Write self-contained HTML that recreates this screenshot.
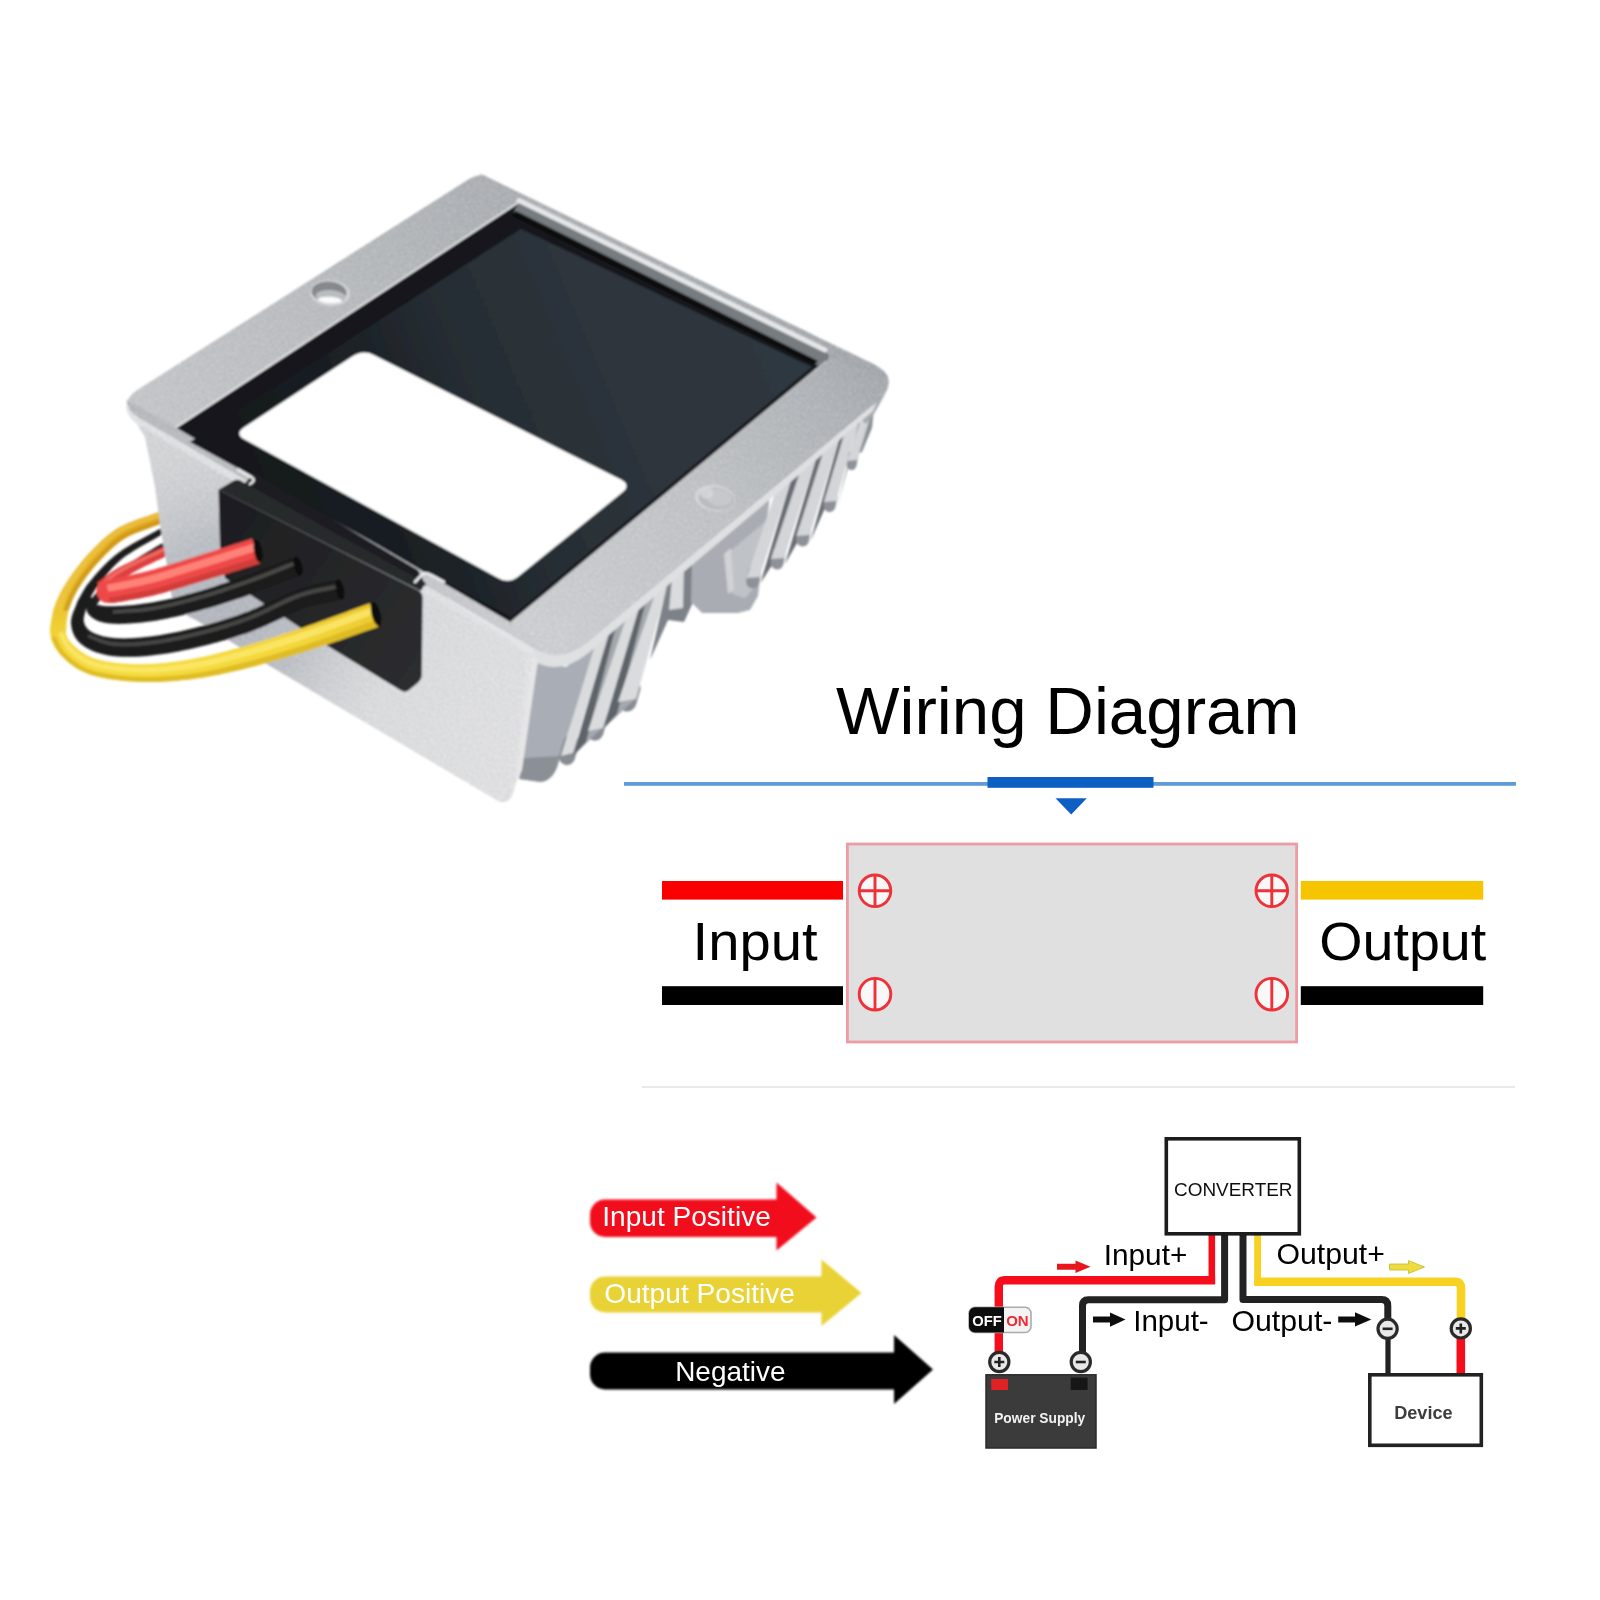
<!DOCTYPE html>
<html><head><meta charset="utf-8"><title>Wiring Diagram</title>
<style>
html,body{margin:0;padding:0;background:#fff;}
body{width:1600px;height:1600px;overflow:hidden;font-family:"Liberation Sans",sans-serif;}
svg{display:block;position:absolute;left:0;top:0;}
text{font-family:"Liberation Sans",sans-serif;}
</style></head><body>
<svg id="main" width="1600" height="1600" viewBox="0 0 1600 1600">
<defs>
<filter id="soft" x="-5%" y="-5%" width="110%" height="110%"><feGaussianBlur stdDeviation="0.6"/></filter>
<filter id="soft2" x="-5%" y="-5%" width="110%" height="110%"><feGaussianBlur stdDeviation="1"/></filter>
</defs>
<rect width="1600" height="1600" fill="#ffffff"/>

<!-- ===== Product photo ===== -->
<defs>
<filter id="grain" x="0" y="0" width="100%" height="100%" filterUnits="objectBoundingBox"><feTurbulence type="fractalNoise" baseFrequency="0.55" numOctaves="2" seed="7" result="n"/><feColorMatrix in="n" type="matrix" values="0 0 0 0 1  0 0 0 0 1  0 0 0 0 1  1.6 0 0 0 -0.62"/></filter>
<filter id="grainD" x="0" y="0" width="100%" height="100%" filterUnits="objectBoundingBox"><feTurbulence type="fractalNoise" baseFrequency="0.55" numOctaves="2" seed="23" result="n"/><feColorMatrix in="n" type="matrix" values="0 0 0 0 0.25  0 0 0 0 0.27  0 0 0 0 0.3  1.6 0 0 0 -0.62"/></filter>
<clipPath id="metalClip"><path d="M138 389.8L467 180.5Q479 173 491 179L868 361.5Q904 379 877 401.5L588 641.8Q561 664.3 534 648.5L140 417.9Q116 403.8 138 389.8Z"/><path d="M127 408L137 424L145 437L155 487L162 537L167 565L172 598Q177 612 196 620L270 666L498 801Q510 806 514 790L533 656L300 500Z"/></clipPath>
<linearGradient id="gYel" gradientUnits="userSpaceOnUse" x1="0" y1="525" x2="0" y2="670"><stop offset="0" stop-color="#e2ac22"/><stop offset="0.5" stop-color="#eac02c"/><stop offset="0.8" stop-color="#f3d63a"/><stop offset="1" stop-color="#f5da3e"/></linearGradient>
<linearGradient id="gGrom" gradientUnits="userSpaceOnUse" x1="220" y1="520" x2="420" y2="660"><stop offset="0" stop-color="#1d1e20"/><stop offset="1" stop-color="#2c2d2f"/></linearGradient>
<linearGradient id="gTL" gradientUnits="userSpaceOnUse" x1="130" y1="400" x2="480" y2="180"><stop offset="0" stop-color="#c3c5c7"/><stop offset="0.5" stop-color="#b7babd"/><stop offset="1" stop-color="#a7abaf"/></linearGradient>
<linearGradient id="gTR" gradientUnits="userSpaceOnUse" x1="480" y1="180" x2="885" y2="375">
<stop offset="0" stop-color="#a6aaae"/><stop offset="1" stop-color="#9da2a7"/></linearGradient>
<linearGradient id="gFR" gradientUnits="userSpaceOnUse" x1="550" y1="650" x2="880" y2="380">
<stop offset="0" stop-color="#cdcfd1"/><stop offset="0.5" stop-color="#bec1c4"/><stop offset="0.85" stop-color="#acb0b4"/><stop offset="1" stop-color="#a0a5aa"/></linearGradient>
<linearGradient id="gFL" gradientUnits="userSpaceOnUse" x1="130" y1="410" x2="550" y2="650"><stop offset="0" stop-color="#b3b6b9"/><stop offset="0.5" stop-color="#bcbfc2"/><stop offset="1" stop-color="#cdcfd1"/></linearGradient>
<linearGradient id="gFrame" gradientUnits="userSpaceOnUse" x1="130" y1="420" x2="880" y2="360">
<stop offset="0" stop-color="#c6c8ca"/><stop offset="0.45" stop-color="#b4b7ba"/><stop offset="1" stop-color="#9ea3a8"/>
</linearGradient>
<linearGradient id="gFrameFront" gradientUnits="userSpaceOnUse" x1="520" y1="660" x2="880" y2="380">
<stop offset="0" stop-color="#c9cbcd"/><stop offset="0.6" stop-color="#b9bcbf"/><stop offset="1" stop-color="#a3a7ab"/>
</linearGradient>
<linearGradient id="gWall" gradientUnits="userSpaceOnUse" x1="140" y1="450" x2="520" y2="740"><stop offset="0" stop-color="#d4d5d6"/><stop offset="0.5" stop-color="#d9dadb"/><stop offset="1" stop-color="#e3e3e4"/></linearGradient>
<radialGradient id="gWallSh" gradientUnits="userSpaceOnUse" cx="225" cy="615" r="175"><stop offset="0" stop-color="#aeb2ba" stop-opacity="1"/><stop offset="0.45" stop-color="#b4b8bf" stop-opacity="0.85"/><stop offset="1" stop-color="#c8cacf" stop-opacity="0"/></radialGradient>
<linearGradient id="gPot" gradientUnits="userSpaceOnUse" x1="240" y1="540" x2="760" y2="320"><stop offset="0" stop-color="#13171a"/><stop offset="0.28" stop-color="#1a2024"/><stop offset="0.5" stop-color="#272e34"/><stop offset="0.75" stop-color="#2e353d"/><stop offset="1" stop-color="#2f373f"/></linearGradient>
<filter id="pblur" x="-2%" y="-2%" width="104%" height="104%"><feGaussianBlur stdDeviation="0.9"/></filter>
</defs>
<g id="photo" filter="url(#pblur)">
<!--WB_START-->
<path d="M86.3 606.0L87.2 604.3L88.1 602.7L88.9 601.1L89.6 599.5L90.4 598.0L91.1 596.5L91.9 595.0L92.7 593.5L93.6 592.0L94.6 590.4L95.8 588.6L97.1 586.8L98.7 584.7L100.4 582.5L102.1 580.2L103.9 577.9L105.9 575.5L107.9 573.0L110.0 570.6L112.2 568.1L114.5 565.7L117.0 563.3L119.5 561.0L122.1 558.8L124.9 556.6L128.0 554.5L131.2 552.4L134.5 550.3L138.0 548.2L141.6 546.1L145.3 544.1L148.9 542.0L152.6 539.9L156.3 537.8L160.0 535.7L163.5 533.6L160.5 528.4L156.9 530.4L153.3 532.4L149.6 534.5L145.9 536.5L142.2 538.5L138.4 540.5L134.8 542.5L131.2 544.6L127.6 546.7L124.2 548.8L121.0 551.0L117.9 553.2L114.9 555.5L112.1 557.9L109.4 560.3L106.8 562.8L104.3 565.2L101.9 567.7L99.7 570.1L97.5 572.5L95.5 574.8L93.6 577.1L91.8 579.2L90.1 581.2L88.5 583.2L87.0 585.1L85.7 587.0L84.6 588.7L83.6 590.4L82.7 592.0L81.8 593.6L81.0 595.1L80.2 596.6L79.4 598.0L78.6 599.5L77.7 601.0Z" fill="#1c1c1c" />
<path d="M96.1 605.6L96.9 604.4L97.8 603.4L98.5 602.3L99.2 601.3L99.9 600.4L100.6 599.4L101.4 598.4L102.2 597.4L103.1 596.3L104.0 595.1L105.2 593.9L106.5 592.5L108.0 590.9L109.5 589.3L111.2 587.5L112.9 585.7L114.8 583.9L116.7 582.0L118.7 580.0L120.7 578.1L122.9 576.1L125.1 574.2L127.4 572.3L129.8 570.4L132.3 568.5L134.9 566.6L137.7 564.7L140.6 562.8L143.6 560.9L146.7 558.9L149.8 556.9L152.9 555.0L156.1 553.0L159.2 551.0L162.3 549.1L165.3 547.1L162.7 542.9L159.6 544.8L156.5 546.6L153.3 548.5L150.2 550.4L147.0 552.3L143.8 554.2L140.7 556.1L137.6 558.0L134.6 559.9L131.7 561.8L128.9 563.7L126.2 565.6L123.7 567.5L121.2 569.5L118.8 571.4L116.5 573.4L114.3 575.3L112.2 577.3L110.2 579.2L108.2 581.0L106.4 582.8L104.7 584.5L103.1 586.0L101.5 587.5L100.1 588.9L98.8 590.3L97.6 591.5L96.6 592.6L95.6 593.7L94.7 594.7L93.9 595.7L93.1 596.7L92.4 597.6L91.6 598.5L90.8 599.4L89.9 600.4Z" fill="#232323" />
<path d="M105.0 593.1L106.4 592.0L107.8 590.8L109.2 589.7L110.5 588.5L111.9 587.4L113.2 586.3L114.5 585.2L115.9 584.1L117.2 583.0L118.5 582.0L119.9 581.0L121.3 580.0L122.7 579.1L124.1 578.1L125.6 577.2L127.0 576.3L128.5 575.3L130.0 574.4L131.5 573.5L133.2 572.6L134.8 571.7L136.6 570.7L138.4 569.7L140.3 568.7L142.3 567.7L144.4 566.6L146.6 565.6L148.9 564.5L151.2 563.4L153.6 562.3L156.0 561.1L158.5 560.0L160.9 558.9L163.3 557.8L165.7 556.6L168.1 555.5L163.9 546.5L161.5 547.5L159.1 548.6L156.7 549.7L154.3 550.8L151.8 551.9L149.4 553.0L147.0 554.1L144.6 555.2L142.2 556.2L140.0 557.3L137.8 558.3L135.7 559.3L133.7 560.2L131.8 561.2L129.9 562.0L128.1 562.9L126.4 563.7L124.6 564.6L123.0 565.4L121.3 566.3L119.6 567.1L118.0 568.0L116.4 569.0L114.7 570.0L113.1 571.0L111.5 572.1L109.9 573.2L108.4 574.3L106.9 575.4L105.4 576.5L104.0 577.6L102.6 578.7L101.2 579.7L99.8 580.8L98.4 581.8L97.0 582.9Z" fill="#dd3f3f" />
<path d="M100.6 587.5L102.0 586.4L103.4 585.3L104.8 584.2L106.2 583.1L107.5 582.0L108.9 580.9L110.3 579.8L111.7 578.7L113.2 577.6L114.6 576.6L116.1 575.5L117.7 574.5L119.2 573.5L120.8 572.6L122.3 571.7L123.9 570.8L125.4 569.9L127.0 569.0L128.7 568.1L130.4 567.3L132.1 566.4L133.9 565.4L135.8 564.5L137.8 563.5L139.8 562.5L142.0 561.5L144.2 560.4L146.5 559.3L148.9 558.3L151.3 557.2L153.7 556.1L156.2 554.9L158.6 553.8L161.0 552.7L163.4 551.6L165.8 550.5L164.5 547.8L162.2 548.9L159.8 550.0L157.3 551.1L154.9 552.2L152.5 553.3L150.0 554.4L147.6 555.5L145.2 556.6L142.9 557.6L140.6 558.7L138.5 559.7L136.4 560.7L134.4 561.7L132.5 562.6L130.6 563.5L128.9 564.3L127.1 565.2L125.4 566.0L123.8 566.9L122.2 567.8L120.5 568.6L118.9 569.6L117.3 570.5L115.7 571.5L114.1 572.5L112.5 573.6L111.0 574.7L109.5 575.7L108.0 576.8L106.6 577.9L105.2 579.0L103.8 580.1L102.4 581.2L101.0 582.3L99.6 583.3L98.2 584.4Z" fill="#f06a62" />
<path d="M162.9 510.4L162.4 510.6L162.0 510.7L161.8 510.8L161.5 510.9L161.2 511.0L160.8 511.1L160.3 511.3L159.6 511.5L158.8 511.9L157.8 512.3L156.4 512.8L154.8 513.4L152.9 514.1L150.5 515.0L147.8 515.9L144.8 516.9L141.5 518.0L138.1 519.2L134.6 520.5L131.1 521.9L127.6 523.3L124.1 524.9L120.8 526.5L117.8 528.3L114.9 530.1L112.1 532.0L109.5 534.0L106.9 536.0L104.4 538.2L102.0 540.3L99.7 542.5L97.4 544.7L95.2 547.0L93.0 549.2L90.9 551.4L88.8 553.6L86.7 555.8L84.7 558.2L82.6 560.5L80.6 563.0L78.7 565.4L76.8 567.8L75.0 570.2L73.2 572.7L71.5 575.1L69.8 577.4L68.3 579.7L66.8 582.0L65.4 584.2L64.0 586.4L62.8 588.6L61.5 590.8L60.4 592.9L59.3 595.0L58.3 597.2L57.3 599.3L56.4 601.4L55.6 603.6L54.8 605.7L54.0 608.0L53.4 610.3L52.8 612.6L52.4 614.9L52.0 617.1L51.7 619.3L51.5 621.4L51.3 623.5L51.1 625.5L50.9 627.5L50.8 629.4L50.6 631.2L50.3 633.1L65.7 634.9L65.9 632.8L66.0 630.6L66.2 628.5L66.3 626.5L66.3 624.6L66.4 622.6L66.6 620.8L66.7 619.0L66.9 617.2L67.2 615.5L67.5 613.8L68.0 612.0L68.5 610.2L69.1 608.4L69.7 606.6L70.4 604.7L71.1 602.9L71.9 601.0L72.8 599.1L73.7 597.2L74.7 595.3L75.8 593.3L77.0 591.3L78.2 589.2L79.5 587.1L80.9 584.9L82.4 582.6L84.0 580.4L85.6 578.1L87.3 575.8L89.1 573.5L90.9 571.2L92.7 569.0L94.6 566.7L96.4 564.6L98.4 562.4L100.4 560.3L102.4 558.1L104.4 555.9L106.5 553.8L108.6 551.7L110.7 549.7L112.9 547.7L115.1 545.7L117.3 543.9L119.6 542.1L121.9 540.5L124.2 538.9L126.7 537.5L129.5 536.1L132.5 534.6L135.7 533.3L139.0 532.0L142.3 530.7L145.6 529.5L148.7 528.4L151.7 527.3L154.5 526.3L157.0 525.4L159.2 524.6L160.9 523.9L162.1 523.4L163.1 523.0L163.8 522.7L164.4 522.6L164.7 522.4L165.0 522.3L165.2 522.3L165.5 522.2L166.0 522.0L166.5 521.9L167.1 521.6Z" fill="url(#gYel)" />
<path d="M165.5 517.4L164.9 517.6L164.5 517.8L164.1 517.9L163.8 518.0L163.6 518.1L163.2 518.2L162.8 518.3L162.3 518.5L161.5 518.8L160.5 519.2L159.2 519.7L157.5 520.4L155.5 521.2L153.0 522.1L150.3 523.0L147.3 524.1L144.1 525.2L140.7 526.4L137.4 527.7L134.0 529.0L130.7 530.4L127.5 531.9L124.5 533.4L121.8 534.9L119.3 536.6L116.8 538.3L114.4 540.2L112.0 542.1L109.7 544.1L107.5 546.2L105.2 548.3L103.1 550.4L101.0 552.6L98.9 554.7L96.8 556.9L94.8 559.1L92.8 561.3L90.8 563.5L88.9 565.8L87.0 568.1L85.2 570.5L83.4 572.8L81.6 575.1L79.9 577.5L78.3 579.8L76.8 582.1L75.3 584.3L73.9 586.5L72.7 588.6L71.5 590.7L70.5 592.7L69.5 594.7L68.6 596.7L67.8 598.7L66.9 600.7L66.1 602.7L65.3 604.7L64.5 606.7L63.6 608.7L62.6 610.8L67.3 612.9L68.2 610.8L69.1 608.7L69.9 606.6L70.7 604.6L71.5 602.6L72.2 600.6L73.0 598.7L73.9 596.8L74.8 594.9L75.7 592.9L76.8 591.0L77.9 589.0L79.3 586.9L80.7 584.7L82.2 582.5L83.7 580.2L85.4 577.9L87.1 575.6L88.8 573.3L90.6 571.0L92.4 568.7L94.3 566.5L96.2 564.3L98.1 562.2L100.1 560.0L102.1 557.9L104.2 555.7L106.3 553.6L108.4 551.5L110.5 549.4L112.7 547.4L114.9 545.5L117.1 543.7L119.4 541.9L121.7 540.2L124.1 538.7L126.6 537.2L129.4 535.8L132.4 534.4L135.6 533.0L138.9 531.7L142.2 530.4L145.5 529.2L148.6 528.1L151.6 527.0L154.4 526.0L156.9 525.1L159.1 524.3L160.7 523.6L162.0 523.1L163.0 522.7L163.7 522.5L164.3 522.3L164.6 522.1L164.9 522.1L165.1 522.0L165.4 521.9L165.9 521.7L166.4 521.6L167.0 521.3Z" fill="#c8901a" opacity="0.7"/>
<path d="M163.3 511.5L162.8 511.7L162.4 511.8L162.2 511.9L161.9 512.0L161.6 512.1L161.2 512.3L160.7 512.4L160.1 512.7L159.2 513.0L158.2 513.4L156.9 513.9L155.3 514.5L153.3 515.3L150.9 516.1L148.2 517.0L145.2 518.1L141.9 519.2L138.5 520.4L135.0 521.7L131.5 523.0L128.1 524.5L124.7 526.0L121.4 527.6L118.4 529.3L115.6 531.1L112.9 533.0L110.3 535.0L107.7 537.0L105.3 539.1L102.9 541.3L100.6 543.4L98.3 545.6L96.1 547.9L94.0 550.1L91.9 552.3L89.8 554.5L87.7 556.7L85.6 559.0L83.6 561.4L81.7 563.8L79.7 566.2L77.8 568.6L76.0 571.0L74.3 573.4L72.6 575.8L70.9 578.2L69.4 580.5L67.9 582.8L66.5 585.0L65.2 587.3L64.0 589.5L63.0 591.6L62.0 593.7L61.0 595.8L60.1 597.8L59.3 599.8L58.4 601.8L57.5 603.7L56.7 605.6L55.7 607.6L59.7 609.4L60.6 607.4L61.5 605.4L62.3 603.4L63.2 601.4L64.0 599.5L64.9 597.4L65.8 595.4L66.7 593.4L67.7 591.3L68.8 589.2L70.0 587.1L71.4 584.9L72.8 582.7L74.3 580.4L75.9 578.1L77.5 575.7L79.2 573.4L81.0 571.0L82.8 568.6L84.7 566.3L86.7 563.9L88.6 561.6L90.6 559.3L92.6 557.1L94.7 554.9L96.8 552.7L98.9 550.5L101.0 548.4L103.2 546.2L105.5 544.1L107.8 542.0L110.2 539.9L112.6 537.9L115.1 536.0L117.7 534.2L120.4 532.5L123.2 530.9L126.3 529.3L129.6 527.9L132.9 526.4L136.4 525.1L139.8 523.8L143.1 522.6L146.4 521.5L149.4 520.5L152.1 519.5L154.5 518.7L156.6 517.9L158.2 517.2L159.5 516.7L160.5 516.3L161.3 516.0L161.9 515.8L162.4 515.6L162.7 515.5L163.0 515.4L163.3 515.3L163.6 515.2L164.0 515.1L164.6 514.9Z" fill="#f0c648" opacity="0.7"/>
<!--WB_END-->
<!-- vertical wall (left / front-left face) -->
<path d="M127 408L137 424L145 437L155 487L162 537L167 565L172 598Q177 612 196 620L270 666L498 801Q510 806 514 790L533 656L300 500Z" fill="url(#gWall)"/>
<path d="M127 408L137 424L145 437L155 487L162 537L167 565L172 598Q177 612 196 620L270 666L498 801Q510 806 514 790L533 656L300 500Z" fill="url(#gWallSh)"/>
<!--FINS_START-->
<path d="M535.0 660.0L566.0 667.1L600.0 638.4L561.0 754.0L550.0 778.0L541.0 782.0L520.0 779.0L528.0 700.0Z" fill="#a9aeb6"/>
<path d="M523 758L560 756Q556 780 541 782L519 779Z" fill="#8b8f96"/>
<path d="M571.0 743.0L567.0 757.0" stroke="#878b92" stroke-width="16" stroke-linecap="round" fill="none"/>
<path d="M599.0 718.0L595.0 732.0" stroke="#878b92" stroke-width="17" stroke-linecap="round" fill="none"/>
<path d="M631.0 688.0L627.0 702.0" stroke="#878b92" stroke-width="19" stroke-linecap="round" fill="none"/>
<path d="M609.0 631.9L628.0 615.8L602.0 728.0L573.0 756.0Z" fill="#a3a8ae"/>
<path d="M609.0 631.9L616.0 626.0L586.0 742.0L573.0 756.0Z" fill="#5f646b"/>
<path d="M639.0 606.6L657.0 591.4L634.0 700.0L603.0 729.0Z" fill="#a3a8ae"/>
<path d="M639.0 606.6L646.0 600.7L617.0 714.0L603.0 729.0Z" fill="#5f646b"/>
<path d="M596.0 641.8L610.0 630.0L573.0 753.0L561.0 756.0Z" fill="#d9dbdd"/>
<path d="M627.0 615.7L640.0 604.7L603.0 728.0L588.0 731.0Z" fill="#d9dbdd"/>
<path d="M656.0 591.2L669.0 580.3L636.0 699.0L618.0 702.0Z" fill="#d9dbdd"/>
<path d="M668.0 581.1L696.0 557.5L694.0 600.0L684.0 622.0L668.0 620.0L650.0 660.0Z" fill="#7d8289"/>
<path d="M672.0 577.8L684.0 567.7L683.0 608.0L669.0 610.0Z" fill="#d9dbdd"/>
<path d="M692.0 560.9L770.0 495.2L758.0 596.0L750.0 610.0L738.0 613.0L702.0 613.0L691.0 602.0Z" fill="#a9adb3"/>
<path d="M729.0 552.0L772.0 516.0L752.0 590.0L745.0 598.0L732.0 594.0Z" fill="#bfc2c6"/>
<path d="M724.0 554.0L731.0 548.0L734.0 590.0L728.0 594.0Z" fill="#d0d2d5"/>
<path d="M790.5 481.4L802.5 464.3L772.0 565.0L760.5 583.0Z" fill="#676c73"/>
<path d="M815.5 460.3L825.5 444.9L797.5 542.0L785.0 564.0Z" fill="#676c73"/>
<path d="M838.5 440.9L846.0 428.1L825.0 508.0L810.5 541.0Z" fill="#676c73"/>
<path d="M858.0 424.1L862.0 415.4L848.0 467.0L837.0 507.0Z" fill="#676c73"/>
<path d="M872.0 411.4L874.0 408.5L872.0 428.0L862.0 452.0L857.0 454.0Z" fill="#8a8f95"/>
<path d="M754.5 572.0L752.5 582.0" stroke="#8e9298" stroke-width="13" stroke-linecap="round" fill="none"/>
<path d="M777.5 485.4L790.5 481.4L759.5 577.0L746.5 578.0Z" fill="#d3d5d8"/>
<path d="M779.0 553.0L777.0 563.0" stroke="#8e9298" stroke-width="13" stroke-linecap="round" fill="none"/>
<path d="M802.5 464.3L815.5 460.3L784.0 558.0L771.0 559.0Z" fill="#d3d5d8"/>
<path d="M804.5 530.0L802.5 540.0" stroke="#8e9298" stroke-width="13" stroke-linecap="round" fill="none"/>
<path d="M825.5 444.9L838.5 440.9L809.5 535.0L796.5 536.0Z" fill="#d3d5d8"/>
<path d="M831.5 496.0L829.5 506.0" stroke="#8e9298" stroke-width="12" stroke-linecap="round" fill="none"/>
<path d="M846.0 428.1L858.0 424.1L836.0 501.0L824.0 502.0Z" fill="#d3d5d8"/>
<path d="M853.5 455.0L851.5 465.0" stroke="#8e9298" stroke-width="10" stroke-linecap="round" fill="none"/>
<path d="M862.0 415.4L872.0 411.4L857.0 460.0L847.0 461.0Z" fill="#d3d5d8"/>
<path d="M888.0 381.0L884.0 396.0L874.0 414.0L866.0 424.0L860.0 418.0L872.0 404.0Z" fill="#a6aaaf"/>
<path d="M520 641L534 648.5Q561 664.3 588 641.8L877 401.5L873 411L800 473.9L700 558.2L600 642.4Q563 680 532 660Z" fill="#dee0e2"/>
<path d="M527.0 652.0L538.0 660.0L522.0 770.0L513.0 790.0Z" fill="#e6e6e6"/>
<!--FINS_END-->
<!-- top frame -->
<path d="M138 389.8L467 180.5Q479 173 491 179L868 361.5Q904 379 877 401.5L588 641.8Q561 664.3 534 648.5L140 417.9Q116 403.8 138 389.8Z" fill="#b4b7ba"/>
<path d="M138 389.8L467 180.5Q479 173 485 176L518 202L176 427L140 417.9Q116 403.8 138 389.8Z" fill="url(#gTL)"/>
<path d="M479 174Q485 175 491 179L868 361.5Q892 372 888 384L826 356L518 202Z" fill="url(#gTR)"/>
<path d="M888 380Q890 392 877 401.5L588 641.8Q575 652 560 655L510 622L828 355Z" fill="url(#gFR)"/>
<path d="M562 655Q548 656 534 648.5L140 417.9Q125 409 127 400L176 427L511 622Z" fill="url(#gFL)"/>
<path d="M127 403Q126 411 140 418.500L534 649L531 656L140 426Q128 419 126 408Z" fill="#e3e4e5"/>
<g clip-path="url(#metalClip)"><rect x="110" y="160" width="800" height="660" filter="url(#grain)" opacity="0.55"/><rect x="110" y="160" width="800" height="660" filter="url(#grainD)" opacity="0.35"/></g>
<!-- potting -->
<path d="M175.8 427.5L518.2 202.5L824 352Q832 356 826 361L510.8 622.2Z" fill="#14171a"/>
<path d="M190 442L521 229L812 367L511 617Z" fill="url(#gPot)"/>
<!-- potting detail -->
<path d="M518.2 202.5L824 352Q832 356 826 361L819 366L514 212Z" fill="#767b80"/>
<path d="M516 211L818 361L814 365L512 216Z" fill="#0d0f11"/>

<path d="M175.8 427.5L518.2 202.5" stroke="#e9eaeb" stroke-width="1.8" fill="none"/>
<path d="M826 361L510.8 622.2" stroke="#c9cbcd" stroke-width="1.6" fill="none" opacity="0.8"/>
<path d="M519 200.500L825 350" stroke="#e4e6e8" stroke-width="5" fill="none" stroke-linecap="round"/>

<!-- label -->
<path d="M353.0 356.1Q363.0 349.5 373.7 354.9L620.8 479.6Q631.5 485.0 622.2 492.5L518.3 576.5Q509.0 584.0 498.5 578.2L244.7 439.6Q234.2 433.8 244.2 427.2Z" fill="#ffffff"/>
<!-- holes -->
<g transform="rotate(4 330 293)">
<ellipse cx="330" cy="293" rx="20" ry="13" fill="#d2d4d6"/>
<ellipse cx="329" cy="292" rx="17.5" ry="10.5" fill="#85898d"/>
<ellipse cx="331" cy="296.5" rx="15" ry="6.5" fill="#b9bcbf"/>
<ellipse cx="330.5" cy="300" rx="12" ry="3.2" fill="#fbfbfb"/>
</g>
<g transform="rotate(8 715 498)">
<ellipse cx="715" cy="498" rx="20.5" ry="13" fill="#d3d5d7"/>
<ellipse cx="716.5" cy="498.5" rx="18" ry="11" fill="#b9bcc0"/>
<ellipse cx="719" cy="497" rx="13" ry="8.5" fill="#c6c8cb"/>
<ellipse cx="706" cy="494" rx="7" ry="6" fill="#d6d8da" opacity="0.8"/>
</g>

<!-- notch / grommet -->
<path d="M254 473L418 570L426 586L243 485.500Z" fill="#1c1e20"/>
<path d="M218.500 489.800L233 481Q238 478 243 482L426 583L420.700 591Z" fill="#282a2c"/>
<path d="M218.500 489.800L418.500 590.500Q422.800 592.500 422.600 599L421.800 675Q421.500 680 417 683.500L408.500 690.500Q405 693 400 690L331 648L225 578L220 546Z" fill="url(#gGrom)"/>
<path d="M238 469.500L252 477.500Q256 480.500 250 484" stroke="#eceded" stroke-width="2.600" fill="none" stroke-linecap="round"/>
<path d="M415 582L422 574.500Q426 572 431 575L444 582" stroke="#eceded" stroke-width="2.600" fill="none" stroke-linecap="round"/>
<!--WF_START-->
<path d="M53.8 609.0L53.5 610.8L53.1 612.7L52.7 614.6L52.2 616.7L51.7 618.8L51.2 621.0L50.8 623.2L50.4 625.5L50.1 627.9L50.0 630.3L50.1 632.9L50.4 635.4L50.8 637.6L51.4 639.8L52.2 641.9L53.0 643.9L54.0 645.9L55.1 647.8L56.3 649.6L57.6 651.3L58.9 653.0L60.4 654.7L61.9 656.3L63.5 657.8L65.2 659.3L66.8 660.9L68.6 662.4L70.6 664.0L72.6 665.5L74.8 667.0L77.1 668.5L79.6 670.0L82.2 671.3L85.1 672.6L88.0 673.8L91.2 674.9L94.5 675.8L97.9 676.7L101.5 677.5L105.2 678.3L109.0 678.9L113.0 679.5L117.0 680.0L121.0 680.5L125.1 680.9L129.1 681.2L133.2 681.5L137.2 681.7L141.3 681.9L145.4 682.0L149.5 682.0L153.6 682.0L157.8 681.9L162.0 681.7L166.3 681.5L170.5 681.2L174.7 680.9L178.9 680.5L183.1 680.1L187.3 679.7L191.4 679.2L195.5 678.6L199.5 678.1L203.5 677.4L207.5 676.8L211.5 676.0L215.6 675.3L219.8 674.4L224.0 673.5L228.4 672.6L232.9 671.5L237.7 670.4L242.6 669.2L247.6 668.0L252.8 666.7L258.1 665.3L263.6 663.8L269.1 662.3L274.7 660.7L280.4 659.1L286.1 657.5L291.9 655.7L297.8 654.0L303.6 652.2L309.6 650.3L315.6 648.3L321.8 646.3L328.0 644.2L334.2 642.0L340.5 639.9L346.8 637.7L353.1 635.5L359.5 633.3L365.7 631.1L372.0 628.9L378.2 626.8L369.8 603.2L363.6 605.5L357.4 607.8L351.1 610.1L344.9 612.4L338.6 614.7L332.3 617.0L326.2 619.3L320.0 621.5L314.0 623.7L308.0 625.8L302.1 627.9L296.4 629.8L290.7 631.7L285.0 633.6L279.3 635.4L273.8 637.2L268.2 639.0L262.8 640.7L257.4 642.3L252.1 643.9L247.0 645.4L242.0 646.9L237.1 648.3L232.3 649.6L227.8 650.8L223.4 652.0L219.2 653.1L215.2 654.1L211.2 655.1L207.4 656.0L203.6 656.8L199.9 657.6L196.2 658.3L192.4 659.0L188.6 659.7L184.7 660.3L180.7 660.9L176.8 661.5L172.8 662.0L168.8 662.5L164.8 662.9L160.8 663.3L156.9 663.6L153.0 663.9L149.1 664.1L145.3 664.2L141.5 664.3L137.8 664.3L134.0 664.2L130.2 664.0L126.4 663.8L122.6 663.5L118.9 663.2L115.2 662.7L111.6 662.3L108.1 661.7L104.7 661.2L101.6 660.5L98.7 659.8L96.0 659.1L93.6 658.3L91.4 657.5L89.3 656.6L87.3 655.6L85.5 654.6L83.7 653.5L82.0 652.3L80.4 651.2L78.8 649.9L77.3 648.7L75.9 647.4L74.5 646.2L73.2 645.0L72.0 643.8L71.0 642.7L70.0 641.6L69.2 640.5L68.5 639.4L67.8 638.3L67.2 637.2L66.7 636.1L66.3 635.0L65.9 633.8L65.6 632.6L65.4 631.6L65.4 630.4L65.4 629.0L65.5 627.4L65.7 625.6L66.0 623.8L66.4 621.8L66.7 619.8L67.2 617.6L67.5 615.4L67.9 613.2L68.2 611.0Z" fill="url(#gYel)" />
<path d="M51.3 637.9L52.1 639.3L52.7 640.6L53.4 642.0L54.1 643.5L54.8 645.1L55.6 646.8L56.5 648.5L57.6 650.4L58.8 652.2L60.2 654.1L61.8 656.0L63.5 657.8L65.2 659.3L66.8 660.9L68.6 662.4L70.6 664.0L72.6 665.5L74.8 667.0L77.1 668.5L79.6 670.0L82.2 671.3L85.1 672.6L88.0 673.8L91.2 674.9L94.5 675.8L97.9 676.7L101.5 677.5L105.2 678.3L109.0 678.9L113.0 679.5L117.0 680.0L121.0 680.5L125.1 680.9L129.1 681.2L133.2 681.5L137.2 681.7L141.3 681.9L145.4 682.0L149.5 682.0L153.6 682.0L157.8 681.9L162.0 681.7L166.3 681.5L170.5 681.2L174.7 680.9L178.9 680.5L183.1 680.1L187.3 679.7L191.4 679.2L195.5 678.6L199.5 678.1L203.5 677.4L207.5 676.8L211.5 676.0L215.6 675.3L219.8 674.4L224.0 673.5L228.4 672.6L232.9 671.5L237.7 670.4L242.6 669.2L247.6 668.0L252.8 666.7L258.1 665.3L263.6 663.8L269.1 662.3L274.7 660.7L280.4 659.1L286.1 657.5L291.9 655.7L297.8 654.0L303.6 652.2L309.6 650.3L315.6 648.3L321.8 646.3L328.0 644.2L334.2 642.0L340.5 639.9L346.8 637.7L353.1 635.5L359.5 633.3L365.7 631.1L372.0 628.9L378.2 626.8L375.8 620.2L369.6 622.3L363.4 624.5L357.1 626.8L350.8 629.0L344.5 631.2L338.2 633.5L332.0 635.7L325.8 637.8L319.6 640.0L313.5 642.0L307.5 644.0L301.6 645.9L295.8 647.8L290.0 649.5L284.2 651.3L278.5 653.0L272.9 654.7L267.3 656.3L261.8 657.8L256.5 659.3L251.2 660.7L246.0 662.1L241.0 663.4L236.2 664.6L231.5 665.7L227.0 666.8L222.7 667.8L218.5 668.7L214.4 669.6L210.4 670.4L206.4 671.2L202.5 671.9L198.6 672.5L194.6 673.2L190.6 673.7L186.6 674.3L182.4 674.7L178.3 675.2L174.2 675.6L170.0 676.0L165.8 676.3L161.7 676.5L157.6 676.8L153.5 676.9L149.4 677.0L145.3 677.0L141.3 677.0L137.4 676.8L133.4 676.7L129.5 676.4L125.5 676.1L121.5 675.7L117.5 675.3L113.6 674.8L109.7 674.3L106.0 673.6L102.4 672.9L98.9 672.2L95.6 671.4L92.5 670.5L89.6 669.5L86.8 668.4L84.2 667.2L81.8 665.9L79.5 664.6L77.3 663.2L75.2 661.8L73.3 660.4L71.5 658.9L69.8 657.5L68.2 656.0L66.6 654.5L65.0 653.0L63.6 651.4L62.4 649.7L61.4 648.0L60.4 646.4L59.6 644.8L58.8 643.2L58.0 641.6L57.3 640.1L56.6 638.6L55.9 637.2L55.0 635.7Z" fill="#d9b520" opacity="0.8"/>
<path d="M58.3 633.8L59.2 635.3L60.0 636.9L60.8 638.4L61.5 639.9L62.2 641.5L63.0 643.0L63.8 644.5L64.7 646.0L65.6 647.5L66.7 648.9L67.9 650.3L69.3 651.7L70.8 653.1L72.4 654.5L74.0 655.9L75.7 657.2L77.5 658.6L79.5 659.9L81.5 661.2L83.7 662.4L86.0 663.6L88.4 664.7L91.0 665.7L93.7 666.6L96.7 667.4L99.8 668.2L103.2 668.9L106.7 669.6L110.4 670.2L114.1 670.7L118.0 671.2L121.9 671.6L125.8 671.9L129.7 672.2L133.6 672.4L137.5 672.6L141.4 672.6L145.3 672.7L149.3 672.6L153.3 672.5L157.3 672.3L161.4 672.0L165.5 671.7L169.6 671.4L173.7 671.0L177.8 670.5L181.9 670.0L185.9 669.5L189.9 669.0L193.9 668.4L197.8 667.7L201.6 667.0L205.5 666.3L209.4 665.5L213.3 664.7L217.3 663.8L221.5 662.8L225.8 661.8L230.2 660.7L234.9 659.5L239.7 658.2L244.7 656.9L249.8 655.5L255.0 654.1L260.3 652.5L265.8 651.0L271.3 649.3L276.9 647.6L282.6 645.9L288.3 644.1L294.0 642.3L299.8 640.4L305.7 638.5L311.6 636.5L317.7 634.4L323.8 632.3L330.0 630.1L336.2 627.9L342.5 625.6L348.8 623.3L355.1 621.1L361.4 618.8L367.6 616.6L373.8 614.4L371.3 607.3L365.1 609.6L358.9 611.8L352.6 614.1L346.3 616.4L340.0 618.7L333.8 621.0L327.6 623.3L321.4 625.5L315.3 627.6L309.3 629.8L303.4 631.8L297.6 633.7L291.9 635.6L286.2 637.5L280.5 639.3L274.9 641.1L269.4 642.8L263.9 644.5L258.5 646.1L253.2 647.7L248.0 649.1L243.0 650.6L238.0 651.9L233.3 653.2L228.7 654.4L224.3 655.6L220.0 656.7L216.0 657.7L212.0 658.6L208.1 659.5L204.3 660.3L200.5 661.1L196.7 661.8L192.9 662.5L189.1 663.1L185.2 663.7L181.2 664.3L177.1 664.8L173.1 665.3L169.1 665.8L165.0 666.2L161.0 666.5L157.0 666.8L153.1 667.1L149.2 667.2L145.3 667.3L141.5 667.4L137.7 667.3L133.9 667.2L130.0 667.0L126.2 666.8L122.3 666.5L118.5 666.1L114.8 665.7L111.1 665.2L107.6 664.6L104.2 664.0L101.0 663.4L97.9 662.6L95.2 661.9L92.6 661.1L90.3 660.1L88.1 659.2L86.0 658.1L84.0 657.0L82.1 655.8L80.4 654.6L78.7 653.4L77.1 652.1L75.5 650.8L74.0 649.5L72.6 648.2L71.4 647.1L70.4 645.9L69.5 644.8L68.7 643.5L67.9 642.2L67.2 640.9L66.5 639.4L65.8 637.9L65.0 636.4L64.2 634.7L63.3 633.1L62.4 631.5Z" fill="#fbe96e" opacity="0.8"/>
<path d="M335.7 579.8L332.6 580.5L329.7 581.1L326.8 581.7L323.8 582.3L320.8 582.9L317.6 583.5L314.4 584.2L311.1 585.0L307.7 585.9L304.1 586.9L300.4 588.0L296.5 589.4L292.5 590.9L288.4 592.6L284.3 594.5L280.1 596.4L275.9 598.5L271.7 600.5L267.5 602.6L263.4 604.6L259.3 606.5L255.2 608.4L251.3 610.1L247.4 611.7L243.5 613.1L239.6 614.6L235.6 616.0L231.7 617.3L227.8 618.6L223.9 619.8L219.9 621.0L216.0 622.2L212.0 623.3L208.1 624.4L204.1 625.5L200.1 626.5L196.1 627.6L192.0 628.6L188.0 629.5L183.9 630.5L179.8 631.4L175.7 632.3L171.7 633.1L167.7 633.8L163.8 634.5L159.9 635.2L156.2 635.8L152.5 636.3L148.9 636.7L145.4 637.1L141.8 637.5L138.4 637.8L134.9 638.0L131.6 638.2L128.3 638.3L125.2 638.4L122.2 638.4L119.3 638.3L116.5 638.2L114.0 638.1L111.5 637.8L109.2 637.5L106.9 637.1L104.8 636.7L102.7 636.2L100.8 635.7L98.9 635.1L97.2 634.5L95.6 633.9L94.1 633.2L92.7 632.5L91.5 631.9L90.5 631.3L89.6 630.6L88.7 630.0L88.0 629.3L87.3 628.6L86.6 627.8L86.1 627.0L85.5 626.1L85.0 625.2L84.6 624.2L84.2 623.1L84.0 622.2L83.8 621.4L83.7 620.5L83.7 619.4L83.8 618.1L84.0 616.7L84.4 615.2L84.8 613.6L85.2 611.9L85.7 610.2L86.1 608.4L86.5 606.5L86.8 604.7L77.2 602.3L76.6 603.8L76.1 605.2L75.4 606.8L74.8 608.4L74.1 610.1L73.4 611.8L72.7 613.6L72.1 615.5L71.6 617.4L71.2 619.5L71.0 621.6L71.0 623.8L71.3 625.8L71.5 627.6L72.0 629.5L72.5 631.4L73.2 633.2L74.0 635.1L75.0 636.9L76.2 638.7L77.5 640.4L79.0 642.1L80.7 643.7L82.5 645.1L84.4 646.4L86.3 647.7L88.4 648.8L90.6 649.9L92.9 651.0L95.3 651.9L97.8 652.8L100.5 653.6L103.2 654.3L106.1 655.0L109.0 655.5L112.0 655.9L115.2 656.3L118.4 656.6L121.7 656.7L125.2 656.8L128.7 656.8L132.3 656.8L135.9 656.7L139.6 656.5L143.4 656.2L147.2 655.9L151.0 655.5L154.9 655.1L158.8 654.6L162.8 654.1L166.9 653.4L171.1 652.7L175.3 652.0L179.5 651.2L183.8 650.3L188.0 649.4L192.3 648.4L196.5 647.5L200.7 646.5L204.9 645.5L209.0 644.4L213.1 643.3L217.3 642.2L221.4 641.1L225.5 639.9L229.6 638.7L233.8 637.4L237.9 636.1L242.0 634.8L246.2 633.4L250.4 631.9L254.6 630.3L258.9 628.6L263.3 626.8L267.7 624.8L272.0 622.8L276.3 620.8L280.6 618.7L284.7 616.7L288.8 614.8L292.7 613.0L296.5 611.4L300.1 609.9L303.5 608.6L306.7 607.6L309.8 606.6L312.9 605.8L315.9 605.1L318.8 604.4L321.7 603.9L324.7 603.3L327.7 602.8L330.7 602.2L333.9 601.6L337.1 600.9L340.3 600.2Z" fill="#1d1d1d" />
<path d="M336.7 584.4L333.6 585.1L330.7 585.7L327.7 586.3L324.7 586.9L321.6 587.5L318.6 588.1L315.4 588.8L312.2 589.5L308.8 590.4L305.4 591.3L301.8 592.4L298.1 593.7L294.2 595.2L290.2 596.8L286.2 598.6L282.1 600.6L277.9 602.6L273.7 604.6L269.5 606.7L265.3 608.7L261.2 610.7L257.0 612.5L253.0 614.3L249.0 615.9L245.1 617.4L241.1 618.8L237.1 620.2L233.1 621.5L229.1 622.8L225.2 624.1L221.2 625.3L217.2 626.5L213.2 627.6L209.2 628.7L205.2 629.8L201.2 630.8L197.1 631.8L193.1 632.8L188.9 633.8L184.8 634.7L180.7 635.6L176.6 636.5L172.5 637.3L168.4 638.1L164.5 638.8L160.6 639.4L156.8 640.0L153.1 640.5L149.4 641.0L145.8 641.3L142.2 641.7L138.6 642.0L135.2 642.2L131.7 642.4L128.4 642.5L125.2 642.5L122.1 642.5L119.1 642.4L116.2 642.3L113.6 642.1L111.1 641.8L108.9 641.4L106.7 640.9L104.7 640.3L102.8 639.7L100.8 639.0L98.9 638.3L96.9 637.5L94.9 636.7L92.8 635.9L90.7 635.1L88.4 634.3L87.4 637.4L89.5 638.1L91.6 638.9L93.6 639.7L95.6 640.5L97.6 641.4L99.6 642.2L101.6 642.9L103.6 643.7L105.8 644.3L108.1 644.9L110.5 645.3L113.2 645.7L116.0 645.9L118.9 646.1L122.0 646.2L125.2 646.2L128.5 646.2L131.9 646.1L135.4 645.9L138.9 645.7L142.5 645.4L146.1 645.1L149.8 644.7L153.5 644.3L157.3 643.8L161.1 643.2L165.1 642.6L169.1 641.9L173.2 641.1L177.3 640.3L181.5 639.4L185.6 638.5L189.8 637.6L194.0 636.6L198.1 635.6L202.1 634.6L206.2 633.5L210.2 632.5L214.2 631.4L218.3 630.2L222.3 629.1L226.3 627.9L230.3 626.6L234.3 625.3L238.4 624.0L242.4 622.6L246.4 621.1L250.5 619.6L254.5 618.0L258.7 616.2L262.8 614.3L267.1 612.3L271.3 610.3L275.5 608.3L279.7 606.2L283.8 604.2L287.9 602.4L291.9 600.6L295.7 599.0L299.5 597.6L303.1 596.3L306.5 595.3L309.9 594.3L313.1 593.5L316.3 592.8L319.4 592.2L322.4 591.6L325.4 591.0L328.5 590.4L331.5 589.8L334.5 589.2L337.7 588.5Z" fill="#474745" />
<path d="M292.4 557.2L288.6 558.7L284.9 560.2L281.2 561.7L277.5 563.2L273.8 564.7L270.1 566.2L266.4 567.6L262.7 569.1L259.0 570.6L255.3 572.0L251.5 573.4L247.7 574.8L243.8 576.2L239.9 577.7L235.9 579.1L231.9 580.5L227.9 581.9L223.9 583.2L219.9 584.6L215.9 585.9L211.9 587.2L207.9 588.5L203.9 589.7L199.9 590.9L195.9 592.0L191.8 593.2L187.7 594.3L183.6 595.4L179.5 596.4L175.4 597.5L171.4 598.4L167.3 599.4L163.4 600.3L159.6 601.1L155.8 601.8L152.2 602.5L148.6 603.1L145.0 603.6L141.3 604.1L137.7 604.5L134.2 604.9L130.7 605.2L127.4 605.5L124.1 605.7L121.0 605.9L118.2 606.1L115.5 606.2L113.1 606.3L111.0 606.3L109.2 606.3L107.5 606.3L106.1 606.2L104.9 606.1L103.7 606.0L102.8 605.9L101.8 605.8L101.0 605.6L100.1 605.4L99.3 605.2L98.6 605.0L98.3 605.0L98.2 605.2L98.0 605.3L97.8 605.3L97.5 605.2L97.1 604.9L96.8 604.4L96.3 603.7L95.9 602.9L95.3 601.9L94.7 600.9L94.0 600.0L86.0 604.0L86.1 604.7L86.0 605.2L86.0 605.9L86.0 606.7L86.1 607.6L86.2 608.8L86.5 610.0L86.9 611.4L87.7 612.9L88.7 614.4L90.0 615.8L91.4 617.0L92.6 617.9L93.8 618.7L95.1 619.4L96.6 620.2L98.1 620.9L99.8 621.5L101.6 622.1L103.6 622.6L105.7 623.0L107.9 623.3L110.3 623.6L112.9 623.7L115.6 623.8L118.6 623.9L121.7 623.8L125.1 623.7L128.5 623.6L132.1 623.3L135.8 623.1L139.6 622.7L143.5 622.3L147.4 621.8L151.3 621.3L155.2 620.7L159.2 620.1L163.2 619.3L167.3 618.5L171.4 617.6L175.6 616.7L179.8 615.7L184.1 614.7L188.3 613.6L192.6 612.5L196.8 611.4L201.0 610.3L205.1 609.1L209.2 608.0L213.4 606.7L217.6 605.5L221.7 604.2L225.9 602.8L230.0 601.5L234.2 600.1L238.3 598.7L242.3 597.4L246.4 596.0L250.3 594.6L254.3 593.2L258.2 591.8L262.1 590.3L266.0 588.9L269.8 587.4L273.6 586.0L277.4 584.5L281.1 583.1L284.8 581.6L288.5 580.1L292.2 578.7L295.9 577.2L299.6 575.8Z" fill="#1d1d1d" />
<path d="M294.0 561.4L290.3 562.9L286.5 564.3L282.8 565.8L279.1 567.3L275.4 568.8L271.7 570.3L268.0 571.8L264.3 573.2L260.6 574.7L256.8 576.1L253.0 577.5L249.2 579.0L245.3 580.4L241.3 581.8L237.4 583.2L233.4 584.6L229.3 586.0L225.3 587.3L221.3 588.7L217.2 590.0L213.2 591.3L209.1 592.6L205.1 593.8L201.1 595.0L197.0 596.1L192.9 597.3L188.8 598.4L184.7 599.5L180.5 600.5L176.4 601.6L172.3 602.6L168.3 603.5L164.3 604.4L160.4 605.2L156.6 605.9L152.9 606.6L149.3 607.2L145.8 607.6L142.4 608.0L139.1 608.4L135.8 608.6L132.5 608.9L129.3 609.1L126.0 609.3L122.7 609.5L119.4 609.7L116.0 609.9L112.6 610.2L112.9 613.7L116.3 613.4L119.6 613.2L122.9 613.0L126.2 612.8L129.5 612.7L132.8 612.5L136.1 612.2L139.4 612.0L142.8 611.7L146.3 611.3L149.8 610.8L153.5 610.2L157.2 609.6L161.1 608.8L165.0 608.0L169.1 607.1L173.2 606.2L177.3 605.2L181.4 604.2L185.6 603.1L189.8 602.0L193.9 600.9L198.0 599.8L202.1 598.6L206.2 597.5L210.2 596.2L214.3 595.0L218.4 593.7L222.5 592.4L226.5 591.0L230.6 589.6L234.6 588.2L238.6 586.8L242.6 585.4L246.6 584.0L250.5 582.6L254.4 581.2L258.2 579.8L262.0 578.4L265.7 576.9L269.5 575.4L273.2 574.0L276.9 572.5L280.6 571.0L284.3 569.5L288.0 568.0L291.7 566.6L295.5 565.1Z" fill="#484846" />
<path d="M252.1 538.6L247.7 540.0L243.2 541.4L238.6 542.9L234.1 544.3L229.6 545.8L225.1 547.2L220.6 548.6L216.2 550.0L211.7 551.4L207.4 552.8L203.0 554.2L198.7 555.5L194.5 556.9L190.2 558.2L185.9 559.6L181.6 560.9L177.4 562.2L173.3 563.5L169.2 564.8L165.2 566.0L161.3 567.2L157.6 568.3L154.0 569.4L150.5 570.3L147.2 571.2L143.8 572.1L140.5 572.9L137.3 573.6L134.1 574.3L131.0 575.0L128.0 575.6L125.2 576.2L122.5 576.8L120.1 577.3L117.8 577.8L115.7 578.2L114.0 578.6L112.7 578.9L111.7 579.1L111.0 579.3L110.5 579.4L110.1 579.5L109.8 579.5L109.4 579.6L108.8 579.7L108.1 579.8L107.3 580.0L106.4 580.1A11.5 11.5 0 0 0 109.6 602.9L109.6 602.9L110.3 602.8L110.6 602.8L111.0 602.8L111.4 602.8L112.0 602.8L112.7 602.8L113.5 602.7L114.5 602.7L115.7 602.5L117.0 602.3L118.5 602.1L120.3 601.8L122.3 601.4L124.6 601.0L127.1 600.6L129.8 600.1L132.7 599.6L135.8 599.1L139.1 598.4L142.5 597.8L146.0 597.0L149.6 596.2L153.2 595.4L156.9 594.5L160.6 593.5L164.5 592.5L168.4 591.3L172.4 590.2L176.5 589.0L180.7 587.7L184.9 586.4L189.2 585.1L193.4 583.8L197.7 582.5L202.0 581.2L206.3 579.9L210.6 578.6L214.9 577.3L219.4 575.9L223.8 574.5L228.3 573.2L232.8 571.8L237.3 570.4L241.9 569.0L246.4 567.6L250.9 566.2L255.4 564.8L259.9 563.4Z" fill="#ee4a48" />
<path d="M257.9 557.2L253.5 558.6L249.0 560.0L244.5 561.4L239.9 562.8L235.4 564.2L230.9 565.6L226.4 567.0L221.9 568.4L217.4 569.8L213.0 571.1L208.7 572.5L204.4 573.8L200.1 575.1L195.8 576.4L191.6 577.7L187.3 579.1L183.0 580.4L178.8 581.7L174.7 582.9L170.6 584.1L166.6 585.3L162.7 586.4L159.0 587.5L155.3 588.4L151.7 589.3L148.1 590.2L144.6 591.0L141.2 591.7L137.8 592.4L134.6 593.0L131.6 593.6L128.7 594.2L125.9 594.7L123.4 595.1L121.2 595.5L119.2 595.9L117.4 596.2L115.9 596.5L114.7 596.7L113.6 596.8L112.8 596.9L112.0 597.0L111.4 597.0L110.9 597.0L110.4 597.1L110.0 597.1L109.5 597.1L108.8 597.2L109.6 602.9L110.3 602.8L110.6 602.8L111.0 602.8L111.4 602.8L112.0 602.8L112.7 602.8L113.5 602.7L114.5 602.7L115.7 602.5L117.0 602.3L118.5 602.1L120.3 601.8L122.3 601.4L124.6 601.0L127.1 600.6L129.8 600.1L132.7 599.6L135.8 599.1L139.1 598.4L142.5 597.8L146.0 597.0L149.6 596.2L153.2 595.4L156.9 594.5L160.6 593.5L164.5 592.5L168.4 591.3L172.4 590.2L176.5 589.0L180.7 587.7L184.9 586.4L189.2 585.1L193.4 583.8L197.7 582.5L202.0 581.2L206.3 579.9L210.6 578.6L214.9 577.3L219.4 575.9L223.8 574.5L228.3 573.2L232.8 571.8L237.3 570.4L241.9 569.0L246.4 567.6L250.9 566.2L255.4 564.8L259.9 563.4Z" fill="#d23c3b" />
<path d="M253.7 543.6L249.2 545.0L244.7 546.4L240.2 547.8L235.7 549.2L231.2 550.7L226.6 552.1L222.2 553.5L217.7 554.9L213.3 556.3L208.9 557.7L204.5 559.1L200.2 560.4L196.0 561.7L191.7 563.1L187.4 564.4L183.1 565.7L178.9 567.1L174.8 568.4L170.7 569.6L166.7 570.9L162.7 572.0L159.0 573.1L155.3 574.2L151.8 575.1L148.4 576.0L145.0 576.9L141.6 577.7L138.3 578.4L135.1 579.1L132.0 579.8L129.0 580.4L126.1 581.0L123.5 581.5L121.0 582.0L118.7 582.5L116.6 582.9L114.9 583.3L113.6 583.6L112.5 583.8L111.7 583.9L111.1 584.0L110.6 584.1L110.2 584.2L109.8 584.3L109.2 584.3L108.6 584.4L107.9 584.5L107.0 584.7L108.0 591.5L108.8 591.4L109.4 591.3L109.9 591.3L110.4 591.2L110.9 591.2L111.4 591.1L112.0 591.1L112.8 591.0L113.7 590.8L114.8 590.6L116.3 590.3L118.0 590.0L120.0 589.6L122.3 589.2L124.8 588.7L127.5 588.2L130.4 587.6L133.4 587.0L136.6 586.4L139.9 585.7L143.3 584.9L146.7 584.1L150.2 583.3L153.7 582.4L157.3 581.4L161.0 580.4L164.9 579.3L168.8 578.1L172.9 576.9L177.0 575.6L181.2 574.3L185.4 573.0L189.7 571.7L193.9 570.3L198.2 569.0L202.5 567.7L206.8 566.4L211.1 565.0L215.5 563.7L220.0 562.3L224.5 560.9L229.0 559.5L233.5 558.1L238.0 556.6L242.5 555.2L247.0 553.8L251.5 552.4L256.0 551.0Z" fill="#ff8278" />
<circle cx="82" cy="603.5" r="5" fill="#1d1d1d"/>
<circle cx="90.5" cy="602" r="4.4" fill="#1d1d1d"/>
<ellipse cx="258" cy="551" rx="4" ry="11.5" transform="rotate(-10 258 551)" fill="#0c0c0c"/>
<ellipse cx="298" cy="566" rx="4" ry="10" transform="rotate(-14 298 566)" fill="#0a0a0a"/>
<ellipse cx="340" cy="589.5" rx="4" ry="10.5" transform="rotate(-12 340 589.5)" fill="#0a0a0a"/>
<ellipse cx="376" cy="614" rx="4.5" ry="12.5" transform="rotate(-14 376 614)" fill="#0a0a0a"/>
<!--WF_END-->
</g>


<!-- ===== Title ===== -->
<g id="title" filter="url(#soft)">
<text x="836" y="734" font-size="67" fill="#000" textLength="463.5" lengthAdjust="spacingAndGlyphs">Wiring Diagram</text>
<rect x="624" y="782" width="892" height="3.8" fill="#5e9cd6"/>
<rect x="987.5" y="777" width="166" height="10.8" fill="#0b5fc3"/>
<polygon points="1055.5,798.2 1086.8,798.2 1071.2,814.5" fill="#0b5fc3"/>
</g>

<!-- ===== Box diagram ===== -->
<g id="boxdiag" filter="url(#soft)">
<rect x="847.4" y="844" width="449.2" height="198" fill="#e0e0e0" stroke="#ec9ca2" stroke-width="2.8"/>
<rect x="662" y="881" width="181" height="18.6" fill="#fb0505"/>
<rect x="662" y="986.2" width="181" height="18.8" fill="#000"/>
<rect x="1300.8" y="881" width="182.4" height="18.6" fill="#f6c505"/>
<rect x="1300.8" y="986.2" width="182.4" height="18.8" fill="#000"/>
<g fill="none" stroke="#ee3038" stroke-width="2.9">
<circle cx="875" cy="890.8" r="15.8" fill="#f8f8f8"/><path d="M859.4 890.8H890.6M875 875.2V906.4"/>
<circle cx="875" cy="994.2" r="15.8" fill="#f8f8f8"/><path d="M875 978.6V1009.8"/>
<circle cx="1271.8" cy="890.8" r="15.8" fill="#f8f8f8"/><path d="M1256.2 890.8H1287.4M1271.8 875.2V906.4"/>
<circle cx="1271.8" cy="994.2" r="15.8" fill="#f8f8f8"/><path d="M1271.8 978.6V1009.8"/>
</g>
<text x="692.6" y="959.7" font-size="54.5" fill="#000" textLength="125" lengthAdjust="spacingAndGlyphs">Input</text>
<text x="1319.2" y="959.5" font-size="54.5" fill="#000" textLength="167.1" lengthAdjust="spacingAndGlyphs">Output</text>
</g>
<rect x="642" y="1086" width="873" height="2" fill="#e9e9e9"/>

<!-- ===== Legend arrows ===== -->
<g id="legend" filter="url(#soft2)">
<path d="M605 1199.5H776.5V1182.5L816.5 1217.5L776.5 1250.5V1237H605A15 15 0 0 1 590 1222V1214.5A15 15 0 0 1 605 1199.5Z" fill="#f20d1e"/>
<path d="M605 1276.5H821.5V1259.5L861.5 1293L821.5 1326V1312.5H605A15 15 0 0 1 590 1297.5V1291.5A15 15 0 0 1 605 1276.5Z" fill="#e9d234"/>
<path d="M605 1352.5H894V1335L933 1369.5L894 1404V1389.5H605A15 15 0 0 1 590 1374.5V1367.5A15 15 0 0 1 605 1352.5Z" fill="#000"/>
</g>
<g id="legendtext" filter="url(#soft)" fill="#fff" font-size="27.5">
<text x="602.3" y="1226.3" textLength="168.5" lengthAdjust="spacingAndGlyphs">Input Positive</text>
<text x="604.3" y="1303.3" textLength="190.7" lengthAdjust="spacingAndGlyphs">Output Positive</text>
<text x="675.2" y="1380.7" textLength="110.3" lengthAdjust="spacingAndGlyphs">Negative</text>
</g>


<!-- ===== Circuit ===== -->
<g id="circuit" filter="url(#soft)">
<!-- wires -->
<g fill="none" stroke-linejoin="round" stroke-linecap="butt">
<path d="M1211.8 1235V1284" stroke="#f5101c" stroke-width="6.6"/><path d="M1215.1 1280.3H1004.8Q998.8 1280.3 998.8 1286.5V1352" stroke="#f5101c" stroke-width="8.4"/>
<path d="M1224.6 1235V1299.8H1088.5Q1082.5 1299.8 1082.5 1305.8V1353" stroke="#222" stroke-width="7"/>
<path d="M1243 1235V1299.6H1381.5Q1387.8 1299.6 1387.8 1306V1319" stroke="#222" stroke-width="7"/>
<path d="M1257.6 1235V1285" stroke="#f7d220" stroke-width="6.8"/><path d="M1254.2 1281.8H1455Q1461 1281.8 1461 1288V1319" stroke="#f7d220" stroke-width="8.6"/>
<path d="M1388 1338V1374" stroke="#222" stroke-width="5.2"/>
<path d="M1460.8 1338V1374" stroke="#f5101c" stroke-width="8.6"/>
</g>
<!-- converter -->
<rect x="1166.3" y="1138.8" width="133" height="95" fill="#fff" stroke="#1c1c1c" stroke-width="3.6"/>
<text x="1174" y="1195.6" font-size="18.2" fill="#111" textLength="118.5" lengthAdjust="spacingAndGlyphs">CONVERTER</text>
<!-- labels -->
<g font-size="29" fill="#000">
<text x="1103.7" y="1264.6" textLength="83.6" lengthAdjust="spacingAndGlyphs">Input+</text>
<text x="1133.2" y="1330.6" textLength="75.5" lengthAdjust="spacingAndGlyphs">Input-</text>
<text x="1276.4" y="1264.2" textLength="108.5" lengthAdjust="spacingAndGlyphs">Output+</text>
<text x="1231.4" y="1330.6" textLength="101" lengthAdjust="spacingAndGlyphs">Output-</text>
</g>
<!-- small arrows -->
<path d="M1057 1263.8H1075.5V1260.5L1090.5 1266.8L1075.5 1273V1269.8H1057Z" fill="#e8181f"/>
<path d="M1093 1316.6H1110V1312.4L1125.5 1319.6L1110 1326.8V1322.6H1093Z" fill="#111"/>
<path d="M1338.2 1316.4H1355V1312.2L1371.3 1319.4L1355 1326.6V1322.4H1338.2Z" fill="#111"/>
<path d="M1389.5 1264H1408.5V1260.6L1424.5 1267L1408.5 1273.5V1270H1389.5Z" fill="#ecdc40" stroke="#c9b92a" stroke-width="0.8"/>
<!-- switch -->
<rect x="969" y="1307.3" width="62" height="25.2" rx="6" fill="#f4f4f4" stroke="#aaa" stroke-width="1.6"/>
<path d="M975 1307.3H1004V1332.5H975A6 6 0 0 1 969 1326.5V1313.3A6 6 0 0 1 975 1307.3Z" fill="#111"/>
<text x="972.2" y="1325.6" font-size="14.5" font-weight="bold" fill="#fff" textLength="29.5" lengthAdjust="spacingAndGlyphs">OFF</text>
<text x="1006.2" y="1325.6" font-size="14.5" font-weight="bold" fill="#ee2a30" textLength="22.5" lengthAdjust="spacingAndGlyphs">ON</text>
<!-- battery -->
<rect x="986" y="1374.8" width="110" height="73.2" fill="#3a3a3a" stroke="#2a2a2a" stroke-width="1.5"/>
<rect x="991.3" y="1379" width="16.7" height="11" fill="#e02428"/>
<rect x="1070.8" y="1377.6" width="16.7" height="12.4" fill="#151515"/>
<text x="994.2" y="1422.6" font-size="14.2" font-weight="bold" fill="#f2f2f2" textLength="91" lengthAdjust="spacingAndGlyphs">Power Supply</text>
<!-- terminals -->
<g stroke="#2a2a2a" stroke-width="3.2" fill="#e8e8e8">
<circle cx="999.3" cy="1362" r="9.6"/><circle cx="1080.8" cy="1362" r="9.6"/>
<circle cx="1387.6" cy="1328.8" r="9.6"/><circle cx="1460.8" cy="1328.4" r="9.6"/>
</g>
<g stroke="#222" stroke-width="2.6" fill="none">
<path d="M994.3 1362H1004.3M999.3 1357V1367"/>
<path d="M1075.8 1362H1085.8"/>
<path d="M1382.6 1328.8H1392.6"/>
<path d="M1455.8 1328.4H1465.8M1460.8 1323.4V1333.4"/>
</g>
<!-- device -->
<rect x="1369.8" y="1374.8" width="111.5" height="70.5" fill="#fff" stroke="#222" stroke-width="3.6"/>
<text x="1394.2" y="1418.8" font-size="18.4" font-weight="bold" fill="#3c3c3c" textLength="58.5" lengthAdjust="spacingAndGlyphs">Device</text>
</g>


</svg>
</body></html>
